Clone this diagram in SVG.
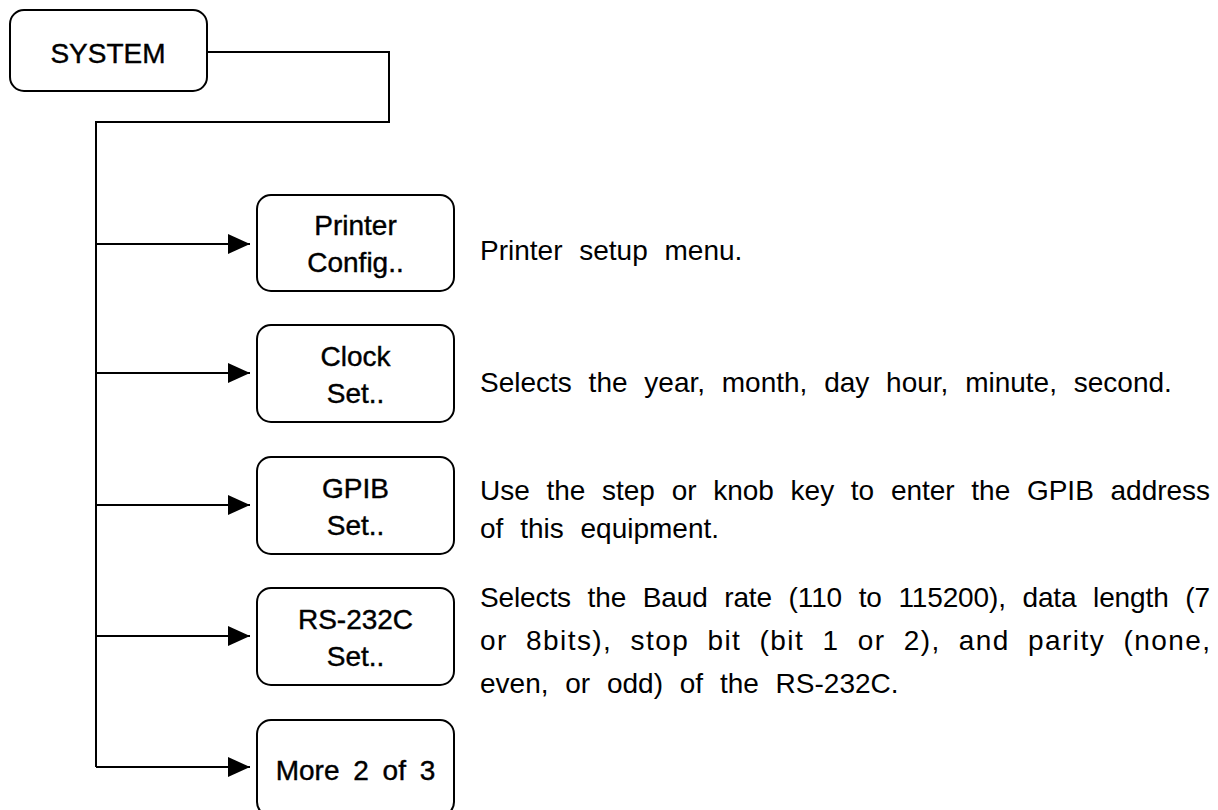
<svg xmlns="http://www.w3.org/2000/svg" width="1218" height="810" viewBox="0 0 1218 810">
<style>
.box{fill:#fff;stroke:#000;stroke-width:2}
.lbl{font-family:"Liberation Sans",Arial,sans-serif;font-size:28px;fill:#000;stroke:#000;stroke-width:0.4;text-anchor:middle}
.desc{font-family:"Liberation Sans",Arial,sans-serif;font-size:28px;fill:#000;word-spacing:9px}
.wire{fill:none;stroke:#000;stroke-width:2}
</style>
<defs>
<marker id="arr" markerWidth="22" markerHeight="20" refX="22" refY="10" orient="auto" markerUnits="userSpaceOnUse">
<path d="M0,0 L22,10 L0,20 Z" fill="#000"/>
</marker>
</defs>
<rect width="1218" height="810" fill="#fff"/>
<g id="connectors">
<path class="wire" d="M207,52 H389 V122 H96 V767"/>
<path class="wire" d="M96,244 H250" marker-end="url(#arr)"/>
<path class="wire" d="M96,373 H250" marker-end="url(#arr)"/>
<path class="wire" d="M96,505 H250" marker-end="url(#arr)"/>
<path class="wire" d="M96,636 H250" marker-end="url(#arr)"/>
<path class="wire" d="M96,767 H250" marker-end="url(#arr)"/>
</g>
<g id="system">
<rect class="box" x="10" y="10" width="197" height="81" rx="14"/>
<text class="lbl" x="108" y="63">SYSTEM</text>
</g>
<g id="printer">
<rect class="box" x="257" y="195" width="197" height="96" rx="14"/>
<text class="lbl" x="355.5" y="235">Printer</text>
<text class="lbl" x="355.5" y="272">Config..</text>
<text class="desc" x="480" y="260">Printer setup menu.</text>
</g>
<g id="clock">
<rect class="box" x="257" y="325" width="197" height="97" rx="14"/>
<text class="lbl" x="355.5" y="365.5">Clock</text>
<text class="lbl" x="355.5" y="402.5">Set..</text>
<text class="desc" x="480" y="392">Selects the year, month, day hour, minute, second.</text>
</g>
<g id="gpib">
<rect class="box" x="257" y="457" width="197" height="97" rx="14"/>
<text class="lbl" x="355.5" y="497.5">GPIB</text>
<text class="lbl" x="355.5" y="534.5">Set..</text>
<text class="desc" x="480" y="500" textLength="730">Use the step or knob key to enter the GPIB address</text>
<text class="desc" x="480" y="538">of this equipment.</text>
</g>
<g id="rs232c">
<rect class="box" x="257" y="588" width="197" height="97" rx="14"/>
<text class="lbl" x="355.5" y="628.5">RS-232C</text>
<text class="lbl" x="355.5" y="665.5">Set..</text>
<text class="desc" x="480" y="607" textLength="730">Selects the Baud rate (110 to 115200), data length (7</text>
<text class="desc" x="480" y="650" textLength="730">or 8bits), stop bit (bit 1 or 2), and parity (none,</text>
<text class="desc" x="480" y="693">even, or odd) of the RS-232C.</text>
</g>
<g id="more">
<rect class="box" x="257" y="720" width="197" height="96" rx="14"/>
<text class="lbl" x="355.5" y="780" style="word-spacing:6px">More 2 of 3</text>
</g>
</svg>
